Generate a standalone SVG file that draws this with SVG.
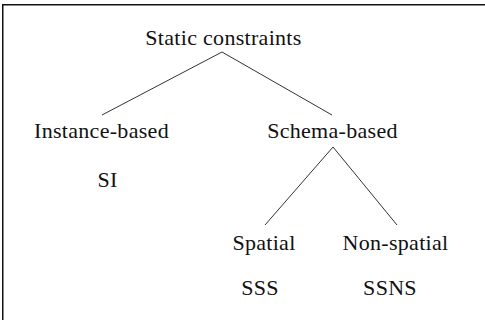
<svg xmlns="http://www.w3.org/2000/svg" width="485" height="320" viewBox="0 0 485 320">
<style>
text{font-family:"Liberation Serif","Times New Roman",serif;font-size:22px;letter-spacing:0.3px;fill:#111;text-anchor:middle}
.c line{stroke:#333;stroke-width:1}
.f{stroke:#111;stroke-width:1.5;fill:none}
</style>
<rect width="485" height="320" fill="#fff"/>
<path class="f" d="M2.75,320 V4.75 H485"/>
<g class="c" id="connectors">
<line x1="222" y1="52" x2="102" y2="115"/>
<line x1="222" y1="52" x2="332" y2="115"/>
<line x1="333" y1="147" x2="265" y2="225"/>
<line x1="333" y1="147" x2="397" y2="225"/>
</g>
<g id="static"><text x="223.5" y="45">Static constraints</text></g>
<g id="instance"><text x="101.5" y="138">Instance-based</text></g>
<g id="schema"><text x="332.5" y="138">Schema-based</text></g>
<g id="si"><text x="107.5" y="187">SI</text></g>
<g id="spatial"><text x="264" y="250">Spatial</text></g>
<g id="nonspatial"><text x="395.5" y="250">Non-spatial</text></g>
<g id="sss"><text x="260" y="295">SSS</text></g>
<g id="ssns"><text x="390" y="295">SSNS</text></g>
</svg>
